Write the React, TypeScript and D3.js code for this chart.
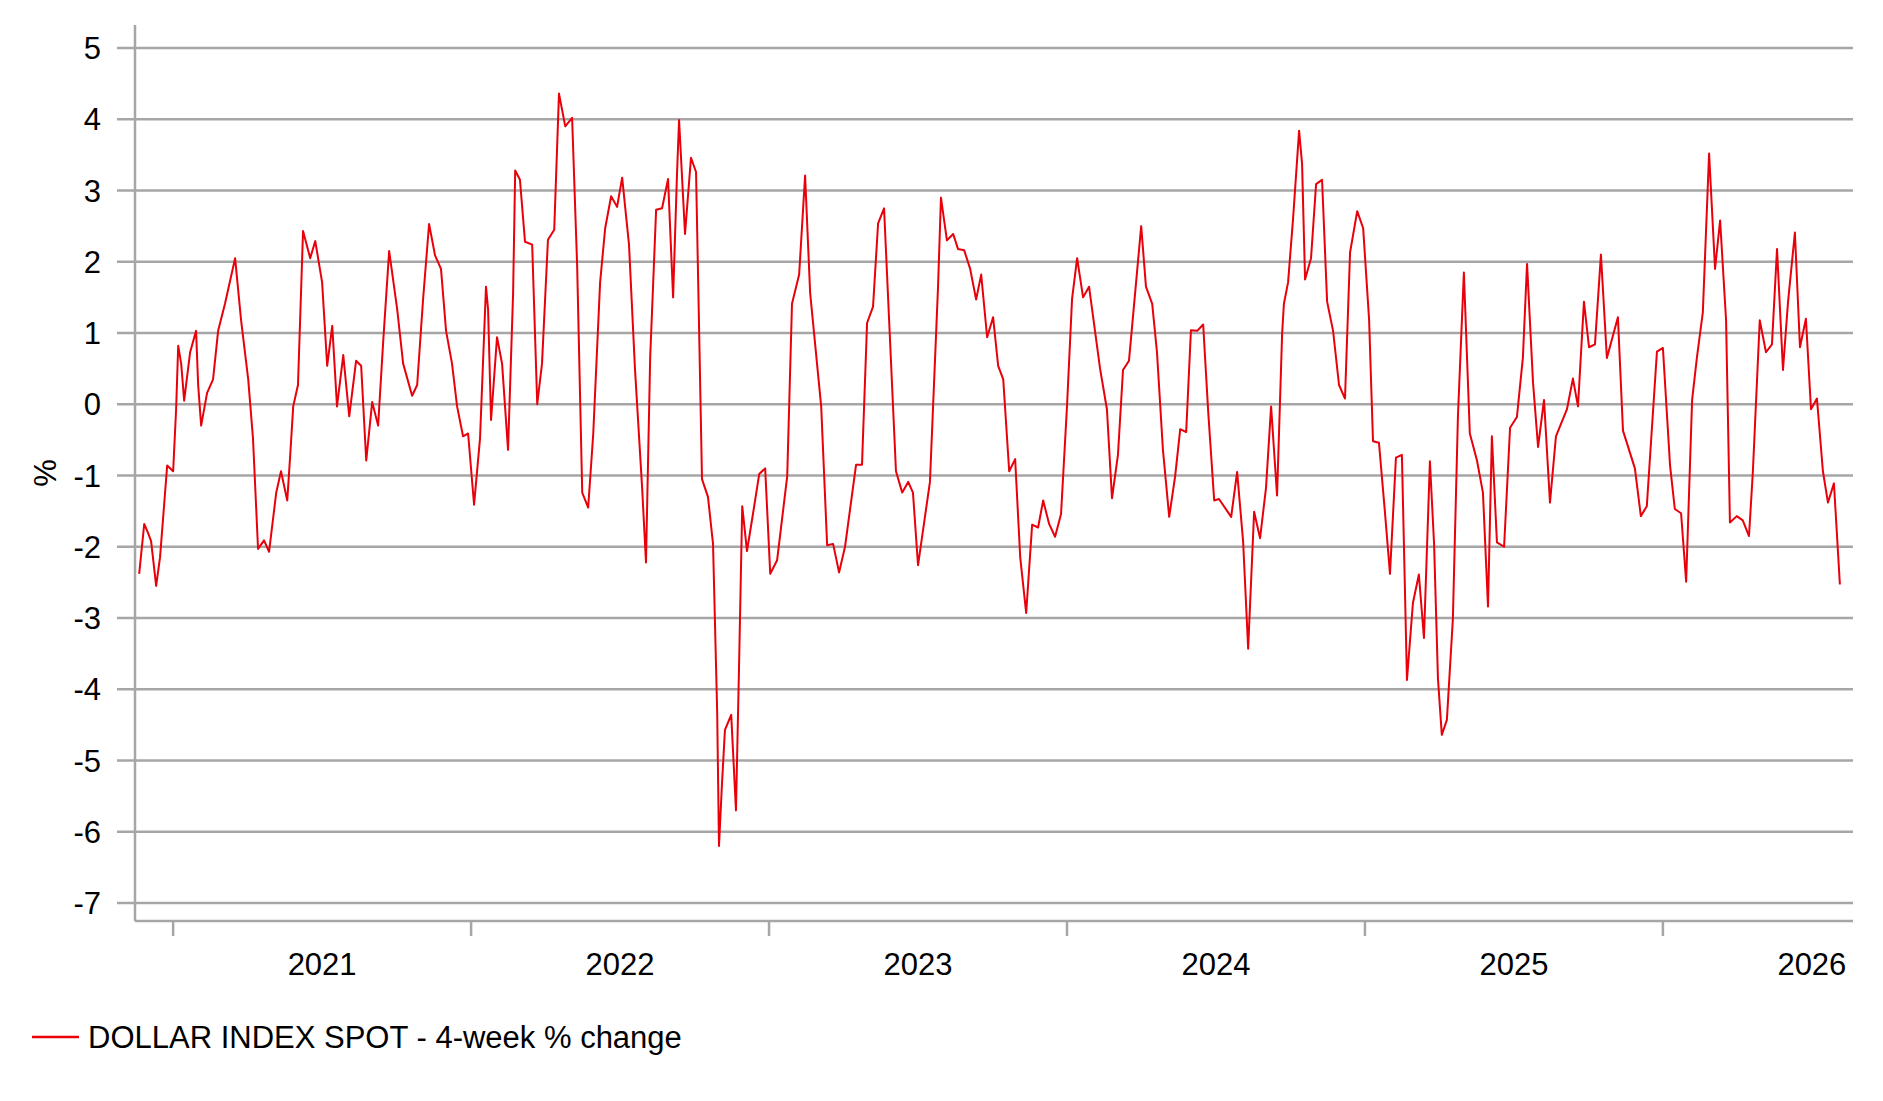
import React from "react";
import * as d3 from "d3";

const yearPos = [2020.886,2020.903,2020.916,2020.926,2020.943,2020.956,2020.980,2021.000,2021.010,2021.017,2021.027,2021.037,2021.057,2021.077,2021.084,2021.094,2021.114,2021.134,2021.151,2021.174,2021.208,2021.228,2021.252,2021.268,2021.285,2021.305,2021.322,2021.346,2021.362,2021.383,2021.393,2021.403,2021.419,2021.436,2021.460,2021.477,2021.500,2021.517,2021.534,2021.550,2021.571,2021.591,2021.614,2021.631,2021.648,2021.668,2021.688,2021.705,2021.725,2021.752,2021.772,2021.802,2021.819,2021.839,2021.859,
2021.879,2021.899,2021.916,2021.936,2021.953,2021.973,2021.990,2022.010,2022.030,2022.050,2022.057,2022.067,2022.087,2022.104,2022.124,2022.141,2022.148,2022.164,2022.181,2022.205,2022.222,2022.238,2022.258,2022.279,2022.295,2022.316,2022.339,2022.356,2022.373,2022.393,2022.410,2022.433,2022.450,2022.470,2022.490,2022.507,2022.530,2022.550,2022.574,2022.587,2022.601,2022.621,2022.641,2022.661,2022.678,2022.691,2022.698,2022.718,2022.738,2022.755,2022.775,2022.795,2022.812,2022.826,2022.832,
2022.842,2022.852,2022.873,2022.889,2022.899,2022.910,2022.926,2022.946,2022.967,2022.987,2023.004,2023.027,2023.061,2023.077,2023.101,2023.121,2023.138,2023.175,2023.195,2023.215,2023.235,2023.255,2023.292,2023.312,2023.329,2023.349,2023.366,2023.386,2023.403,2023.426,2023.447,2023.467,2023.483,2023.500,2023.540,2023.567,2023.577,2023.597,2023.618,2023.634,2023.655,2023.675,2023.695,2023.712,2023.732,2023.752,2023.769,2023.786,
2023.806,2023.826,2023.843,2023.863,2023.883,2023.903,2023.920,2023.940,2023.960,2023.980,2024.000,2024.017,2024.034,2024.054,2024.074,2024.111,2024.134,2024.151,2024.171,2024.188,2024.208,2024.249,2024.265,2024.286,2024.302,2024.322,2024.343,2024.363,2024.380,2024.400,2024.416,2024.437,2024.457,2024.474,2024.494,2024.510,2024.551,2024.571,2024.591,2024.608,2024.628,2024.648,2024.668,2024.685,2024.705,2024.722,2024.728,2024.742,2024.759,2024.779,
2024.789,2024.799,2024.819,2024.836,2024.856,2024.873,2024.893,2024.913,2024.933,2024.950,2024.974,2024.994,2025.014,2025.027,2025.047,2025.067,2025.084,2025.104,2025.124,2025.141,2025.161,2025.181,2025.198,2025.218,2025.232,2025.245,2025.258,2025.275,2025.295,2025.312,2025.332,2025.352,2025.376,2025.396,2025.413,2025.426,2025.443,2025.467,2025.487,2025.510,2025.530,2025.544,2025.564,2025.581,2025.601,2025.621,2025.641,2025.678,2025.698,2025.715,2025.735,2025.752,
2025.772,2025.792,2025.812,2025.849,2025.866,2025.906,2025.926,2025.946,2025.980,2026.000,2026.024,2026.040,2026.061,2026.078,2026.098,2026.114,2026.134,2026.155,2026.175,2026.192,2026.212,2026.225,2026.248,2026.268,2026.289,2026.302,2026.325,2026.346,2026.366,2026.383,2026.403,2026.420,2026.443,2026.460,2026.480,2026.497,2026.517,2026.537,2026.554,2026.574,2026.594];

const changePct = [-2.38,-1.68,-1.81,-1.92,-2.55,-2.15,-0.86,-0.94,-0.07,0.82,0.57,0.05,0.73,1.03,0.27,-0.30,0.16,0.35,1.03,1.41,2.05,1.18,0.35,-0.48,-2.03,-1.91,-2.07,-1.24,-0.94,-1.35,-0.71,-0.03,0.27,2.43,2.05,2.29,1.71,0.54,1.10,-0.03,0.69,-0.17,0.61,0.54,-0.79,0.03,-0.30,0.88,2.15,1.33,0.57,0.12,0.27,1.48,2.53,
2.09,1.90,1.03,0.57,-0.03,-0.45,-0.41,-1.41,-0.48,1.65,1.33,-0.22,0.94,0.57,-0.64,1.56,3.28,3.15,2.28,2.24,0.00,0.57,2.31,2.45,4.36,3.90,4.02,1.94,-1.24,-1.45,-0.41,1.71,2.47,2.92,2.77,3.18,2.24,0.50,-1.17,-2.22,0.65,2.73,2.75,3.16,1.50,3.22,3.99,2.39,3.46,3.26,-1.05,-1.30,-1.96,-4.34,-6.20,
-5.33,-4.57,-4.36,-5.70,-3.74,-1.43,-2.06,-1.54,-0.98,-0.90,-2.38,-2.19,-1.01,1.41,1.82,3.21,1.56,-0.03,-1.98,-1.96,-2.36,-2.00,-0.85,-0.85,1.14,1.37,2.54,2.75,1.18,-0.94,-1.24,-1.09,-1.24,-2.26,-1.09,1.63,2.90,2.30,2.39,2.18,2.16,1.90,1.47,1.82,0.94,1.22,0.54,0.35,
-0.94,-0.77,-2.15,-2.93,-1.69,-1.73,-1.35,-1.68,-1.86,-1.54,-0.03,1.48,2.05,1.50,1.65,0.50,-0.07,-1.32,-0.71,0.48,0.61,2.50,1.65,1.41,0.73,-0.64,-1.58,-1.01,-0.35,-0.39,1.04,1.03,1.12,-0.11,-1.35,-1.33,-1.58,-0.95,-1.92,-3.43,-1.51,-1.88,-1.17,-0.03,-1.28,0.99,1.41,1.71,2.62,3.84,
3.37,1.75,2.05,3.09,3.15,1.44,1.03,0.27,0.08,2.13,2.71,2.47,1.18,-0.52,-0.54,-1.51,-2.38,-0.75,-0.71,-3.87,-2.79,-2.39,-3.28,-0.80,-1.96,-3.85,-4.64,-4.43,-3.02,-0.18,1.85,-0.41,-0.79,-1.24,-2.84,-0.45,-1.94,-2.00,-0.33,-0.18,0.65,1.97,0.31,-0.60,0.06,-1.38,-0.45,-0.07,0.36,-0.03,1.44,0.80,
0.84,2.10,0.65,1.22,-0.37,-0.90,-1.57,-1.43,0.74,0.79,-0.86,-1.47,-1.53,-2.49,0.06,0.65,1.29,3.52,1.90,2.58,1.18,-1.66,-1.57,-1.63,-1.85,-0.94,1.18,0.73,0.84,2.18,0.48,1.44,2.41,0.80,1.20,-0.07,0.08,-0.94,-1.38,-1.11,-2.53];

const yTicks = [5, 4, 3, 2, 1, 0, -1, -2, -3, -4, -5, -6, -7];
const yearTicks = [2021, 2022, 2023, 2024, 2025, 2026];
const seriesName = "DOLLAR INDEX SPOT - 4-week % change";

export default function App() {
  const W = 1883, H = 1101;
  const left = 135, right = 1853;
  const x = d3.scaleLinear().domain([2020.872, 2026.638]).range([left, right]);
  const y = d3.scaleLinear().domain([5, -7]).range([48, 903]);
  const axisY = 921;
  const data = yearPos.map((t, i) => [t, changePct[i]] as [number, number]);
  const line = d3.line<[number, number]>().x(d => x(d[0])).y(d => y(d[1]));
  const font = "'Liberation Sans', Arial, sans-serif";
  const grid = "#a6a6a6";
  return (
    <svg width={W} height={H} style={{ position: "absolute", left: 0, top: 0, background: "#fff" }}>
      {yTicks.map(t => (
        <g key={t}>
          <line x1={117} x2={right} y1={y(t)} y2={y(t)} stroke={grid} strokeWidth={2.5} />
          <text x={101} y={y(t)} dy="0.36em" textAnchor="end" fontFamily={font} fontSize={31} fill="#000">{t}</text>
        </g>
      ))}
      <line x1={left} x2={left} y1={25} y2={axisY} stroke={grid} strokeWidth={2.5} />
      <line x1={left} x2={right} y1={axisY} y2={axisY} stroke={grid} strokeWidth={2.5} />
      {yearTicks.map(t => (
        <g key={t}>
          <line x1={x(t)} x2={x(t)} y1={axisY} y2={936} stroke={grid} strokeWidth={2.5} />
          <text x={x(t + 0.5)} y={975} textAnchor="middle" fontFamily={font} fontSize={31} fill="#000">{t}</text>
        </g>
      ))}
      <text transform="translate(56,473) rotate(-90)" textAnchor="middle" fontFamily={font} fontSize={31} fill="#000">%</text>
      <path d={line(data) || ""} fill="none" stroke="#e8000b" strokeWidth={2} strokeLinejoin="round" />
      <line x1={32} x2={79} y1={1037} y2={1037} stroke="#e8000b" strokeWidth={2.5} />
      <text x={88} y={1048} fontFamily={font} fontSize={31} fill="#000">{seriesName}</text>
    </svg>
  );
}
